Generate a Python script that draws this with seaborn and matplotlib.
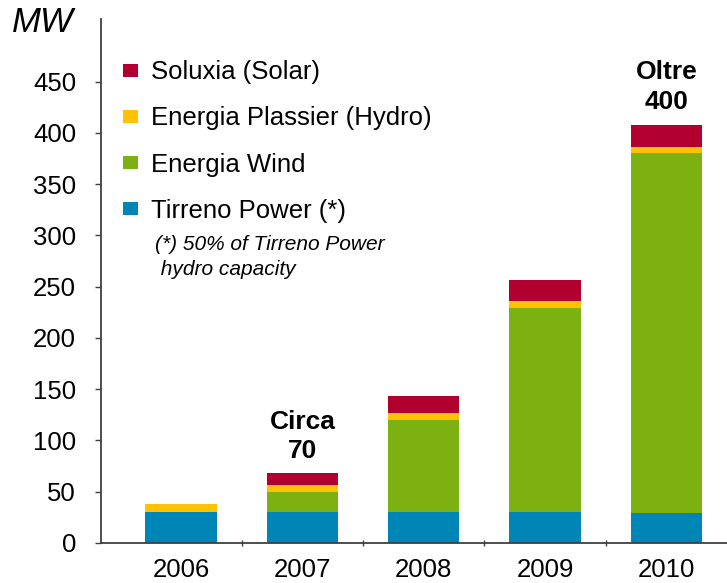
import matplotlib
matplotlib.use('Agg')
import matplotlib.pyplot as plt
import seaborn as sns
import numpy as np
from matplotlib.patches import Patch
from matplotlib.ticker import FixedLocator

# dati (MW)
years = ['2006', '2007', '2008', '2009', '2010']
tirreno = [30, 30, 30, 30, 29]
wind = [0, 20, 90, 199, 351]
plassier = [8, 6.5, 7, 7, 6]
soluxia = [0, 12, 16, 20, 22]

series_names = ['Tirreno Power (*)', 'Energia Wind', 'Energia Plassier (Hydro)', 'Soluxia (Solar)']
series_vals = [tirreno, wind, plassier, soluxia]
colors = ['#0086B6', '#7DB112', '#FFC200', '#B10030']

y_ticks = [0, 50, 100, 150, 200, 250, 300, 350, 400, 450]
notes = {1: ('Circa\n70', 104), 4: ('Oltre\n400', 445)}

sns.set_style('white')
plt.rcParams['font.family'] = ['Liberation Sans', 'DejaVu Sans']
plt.rcParams['text.color'] = 'black'
plt.rcParams['xtick.labelcolor'] = 'black'
plt.rcParams['ytick.labelcolor'] = 'black'

fig = plt.figure(figsize=(7.27, 5.83), dpi=100)
ax = fig.add_axes([101 / 727, 1 - 543 / 583, 1 - 101 / 727, (543 - 19) / 583])

# barre impilate: si disegnano i totali cumulati dal più alto al più basso
cum = np.cumsum(np.array(series_vals, dtype=float), axis=0)
for i in range(len(series_vals) - 1, -1, -1):
    sns.barplot(x=years, y=cum[i], color=colors[i], width=0.59,
                saturation=1, errorbar=None, ax=ax, linewidth=0)

ax.set_xlim(-0.66, 4.5)
ax.set_ylim(0, 511)
ax.set_yticks(y_ticks)
ax.set_yticklabels([str(v) for v in y_ticks])

for s in ['top', 'right']:
    ax.spines[s].set_visible(False)
for s in ['left', 'bottom']:
    ax.spines[s].set_color('#404040')
    ax.spines[s].set_linewidth(1.3)

ax.tick_params(axis='y', left=True, length=4, width=1, color='#404040',
               labelsize=18.5, pad=14, labelcolor='black')
ax.tick_params(axis='x', bottom=True, length=0, labelsize=18.5, pad=11,
               labelcolor='black')
ax.xaxis.set_minor_locator(FixedLocator([0.5, 1.5, 2.5, 3.5]))
ax.tick_params(axis='x', which='minor', bottom=True, length=4, width=1,
               color='#404040', direction='inout')
ax.set_xlabel('')
ax.set_ylabel('')

# etichette sopra le barre
for idx, (txt, yv) in notes.items():
    ax.text(idx, yv, txt, ha='center', va='center', fontsize=19,
            fontweight='bold', linespacing=1.3, color='black')

# legenda (Solar in alto)
handles = [Patch(facecolor=colors[i], edgecolor='none', label=series_names[i])
           for i in range(len(series_names) - 1, -1, -1)]
leg = ax.legend(handles=handles, loc='upper left', bbox_to_anchor=(0.035, 0.921),
                frameon=False, fontsize=18.5, handlelength=0.6, handleheight=0.38,
                handletextpad=0.5, labelspacing=0.86, borderpad=0, borderaxespad=0)
for t in leg.get_texts():
    t.set_color('black')

fig.text(155 / 727, 1 - 257 / 583, '(*) 50% of Tirreno Power\n hydro capacity',
         fontsize=15, style='italic', ha='left', va='center', linespacing=1.35,
         color='black')

fig.text(12 / 727, 1 - 23 / 583, 'MW', fontsize=25, style='italic',
         ha='left', va='center', color='black')

fig.savefig('out.png', dpi=100)
